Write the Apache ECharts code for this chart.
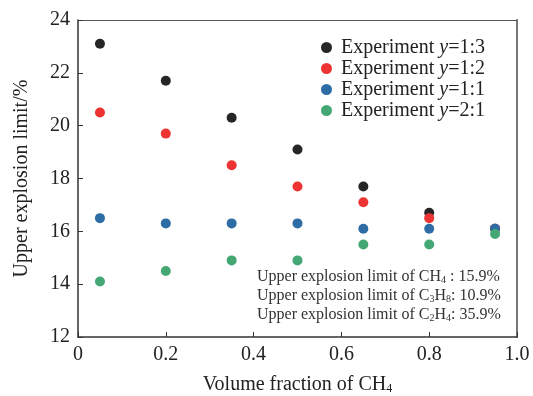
<!DOCTYPE html>
<html><head><meta charset="utf-8">
<script src="https://cdn.jsdelivr.net/npm/echarts@6/dist/echarts.min.js"></script>
<style>html,body{margin:0;padding:0;background:#fff}#c{width:533px;height:396px}</style>
</head><body><div id="c"></div>
<script>
const xValues = [0.05, 0.2, 0.35, 0.5, 0.65, 0.8, 0.95];
const ratio13 = [23.1, 21.7, 20.3, 19.1, 17.7, 16.7, 16.1];
const ratio12 = [20.5, 19.7, 18.5, 17.7, 17.1, 16.5, 16.1];
const ratio11 = [16.5, 16.3, 16.3, 16.3, 16.1, 16.1, 16.1];
const ratio21 = [14.1, 14.5, 14.9, 14.9, 15.5, 15.5, 15.9];
const seriesNames = ['1:3', '1:2', '1:1', '2:1'];
const colors = ['#262626', '#ee3333', '#2d6ca5', '#45a874'];
const yTicks = [12, 14, 16, 18, 20, 22, 24];
const xTicks = [0, 0.2, 0.4, 0.6, 0.8, 1.0];

const FONT = '"Liberation Serif", "Times New Roman", serif';
const chart = echarts.init(document.getElementById('c'));
const allData = [ratio13, ratio12, ratio11, ratio21];
const series = allData.map((arr, i) => ({
  name: 'Experiment y=' + seriesNames[i],
  type: 'scatter',
  symbol: 'circle',
  symbolSize: 10,
  itemStyle: { color: colors[i], opacity: 1 },
  data: xValues.map((x, j) => [x, arr[j]]),
  z: 2 + i
}));
const subRich = {
  n: { fontFamily: FONT, fontSize: 16, color: '#333', lineHeight: 19, verticalAlign: 'bottom' },
  s: { fontFamily: FONT, fontSize: 10, color: '#333', lineHeight: 10, verticalAlign: 'bottom' }
};
chart.setOption({
  animation: false,
  backgroundColor: '#fff',
  grid: { left: 78, right: 16, top: 20, bottom: 59, containLabel: false, outerBoundsMode: 'none' },
  legend: {
    orient: 'vertical', left: 316, top: 32, itemGap: 0,
    icon: 'circle', itemWidth: 11, itemHeight: 11,
    data: series.map(s => s.name),
    formatter: name => 'Experiment {i|y}=' + name.split('=')[1],
    textStyle: { fontFamily: FONT, fontSize: 20, lineHeight: 21, color: '#222', padding: [0, 0, 0, 4],
      rich: { i: { fontFamily: FONT, fontSize: 20, lineHeight: 21, fontStyle: 'italic', color: '#222' } } }
  },
  xAxis: [{
    type: 'value', min: 0, max: 1, interval: 0.2,
    name: 'Volume fraction of CH{s|4}', nameLocation: 'middle', nameGap: 37,
    nameTextStyle: { fontFamily: FONT, fontSize: 20, color: '#222',
      rich: { s: { fontFamily: FONT, fontSize: 12, color: '#222', padding: [9, 0, 0, 0] } } },
    axisLine: { show: true, lineStyle: { color: '#333', width: 1.5 } },
    axisTick: { show: true, inside: true, length: 5, lineStyle: { color: '#333' } },
    axisLabel: { fontFamily: FONT, fontSize: 20, color: '#222', margin: 8,
      formatter: v => v === 0 ? '0' : v.toFixed(1) },
    splitLine: { show: false }
  }, {
    type: 'value', min: 0, max: 1, position: 'top',
    axisLine: { show: true, onZero: false, lineStyle: { color: '#555', width: 1.2 } },
    axisTick: { show: false }, axisLabel: { show: false }, splitLine: { show: false }
  }],
  yAxis: [{
    type: 'value', min: 12, max: 24, interval: 2,
    name: 'Upper explosion limit/%', nameLocation: 'middle', nameGap: 46,
    nameTextStyle: { fontFamily: FONT, fontSize: 20, color: '#222' },
    axisLine: { show: true, lineStyle: { color: '#333', width: 1.5 } },
    axisTick: { show: true, inside: true, length: 5, lineStyle: { color: '#333' } },
    axisLabel: { fontFamily: FONT, fontSize: 20, color: '#222', margin: 8 },
    splitLine: { show: false }
  }, {
    type: 'value', min: 12, max: 24, position: 'right',
    axisLine: { show: true, onZero: false, lineStyle: { color: '#777', width: 2 } },
    axisTick: { show: false }, axisLabel: { show: false }, splitLine: { show: false }
  }],
  graphic: [
    { type: 'text', left: 257, top: 269, style: { text: 'Upper explosion limit of CH{s|4} : 15.9%', rich: subRich, font: '16px ' + FONT, fill: '#333' } },
    { type: 'text', left: 257, top: 288, style: { text: 'Upper explosion limit of C{s|3}H{s|8}: 10.9%', rich: subRich, font: '16px ' + FONT, fill: '#333' } },
    { type: 'text', left: 257, top: 307, style: { text: 'Upper explosion limit of C{s|2}H{s|4}: 35.9%', rich: subRich, font: '16px ' + FONT, fill: '#333' } }
  ],
  series: series
});
</script></body></html>
